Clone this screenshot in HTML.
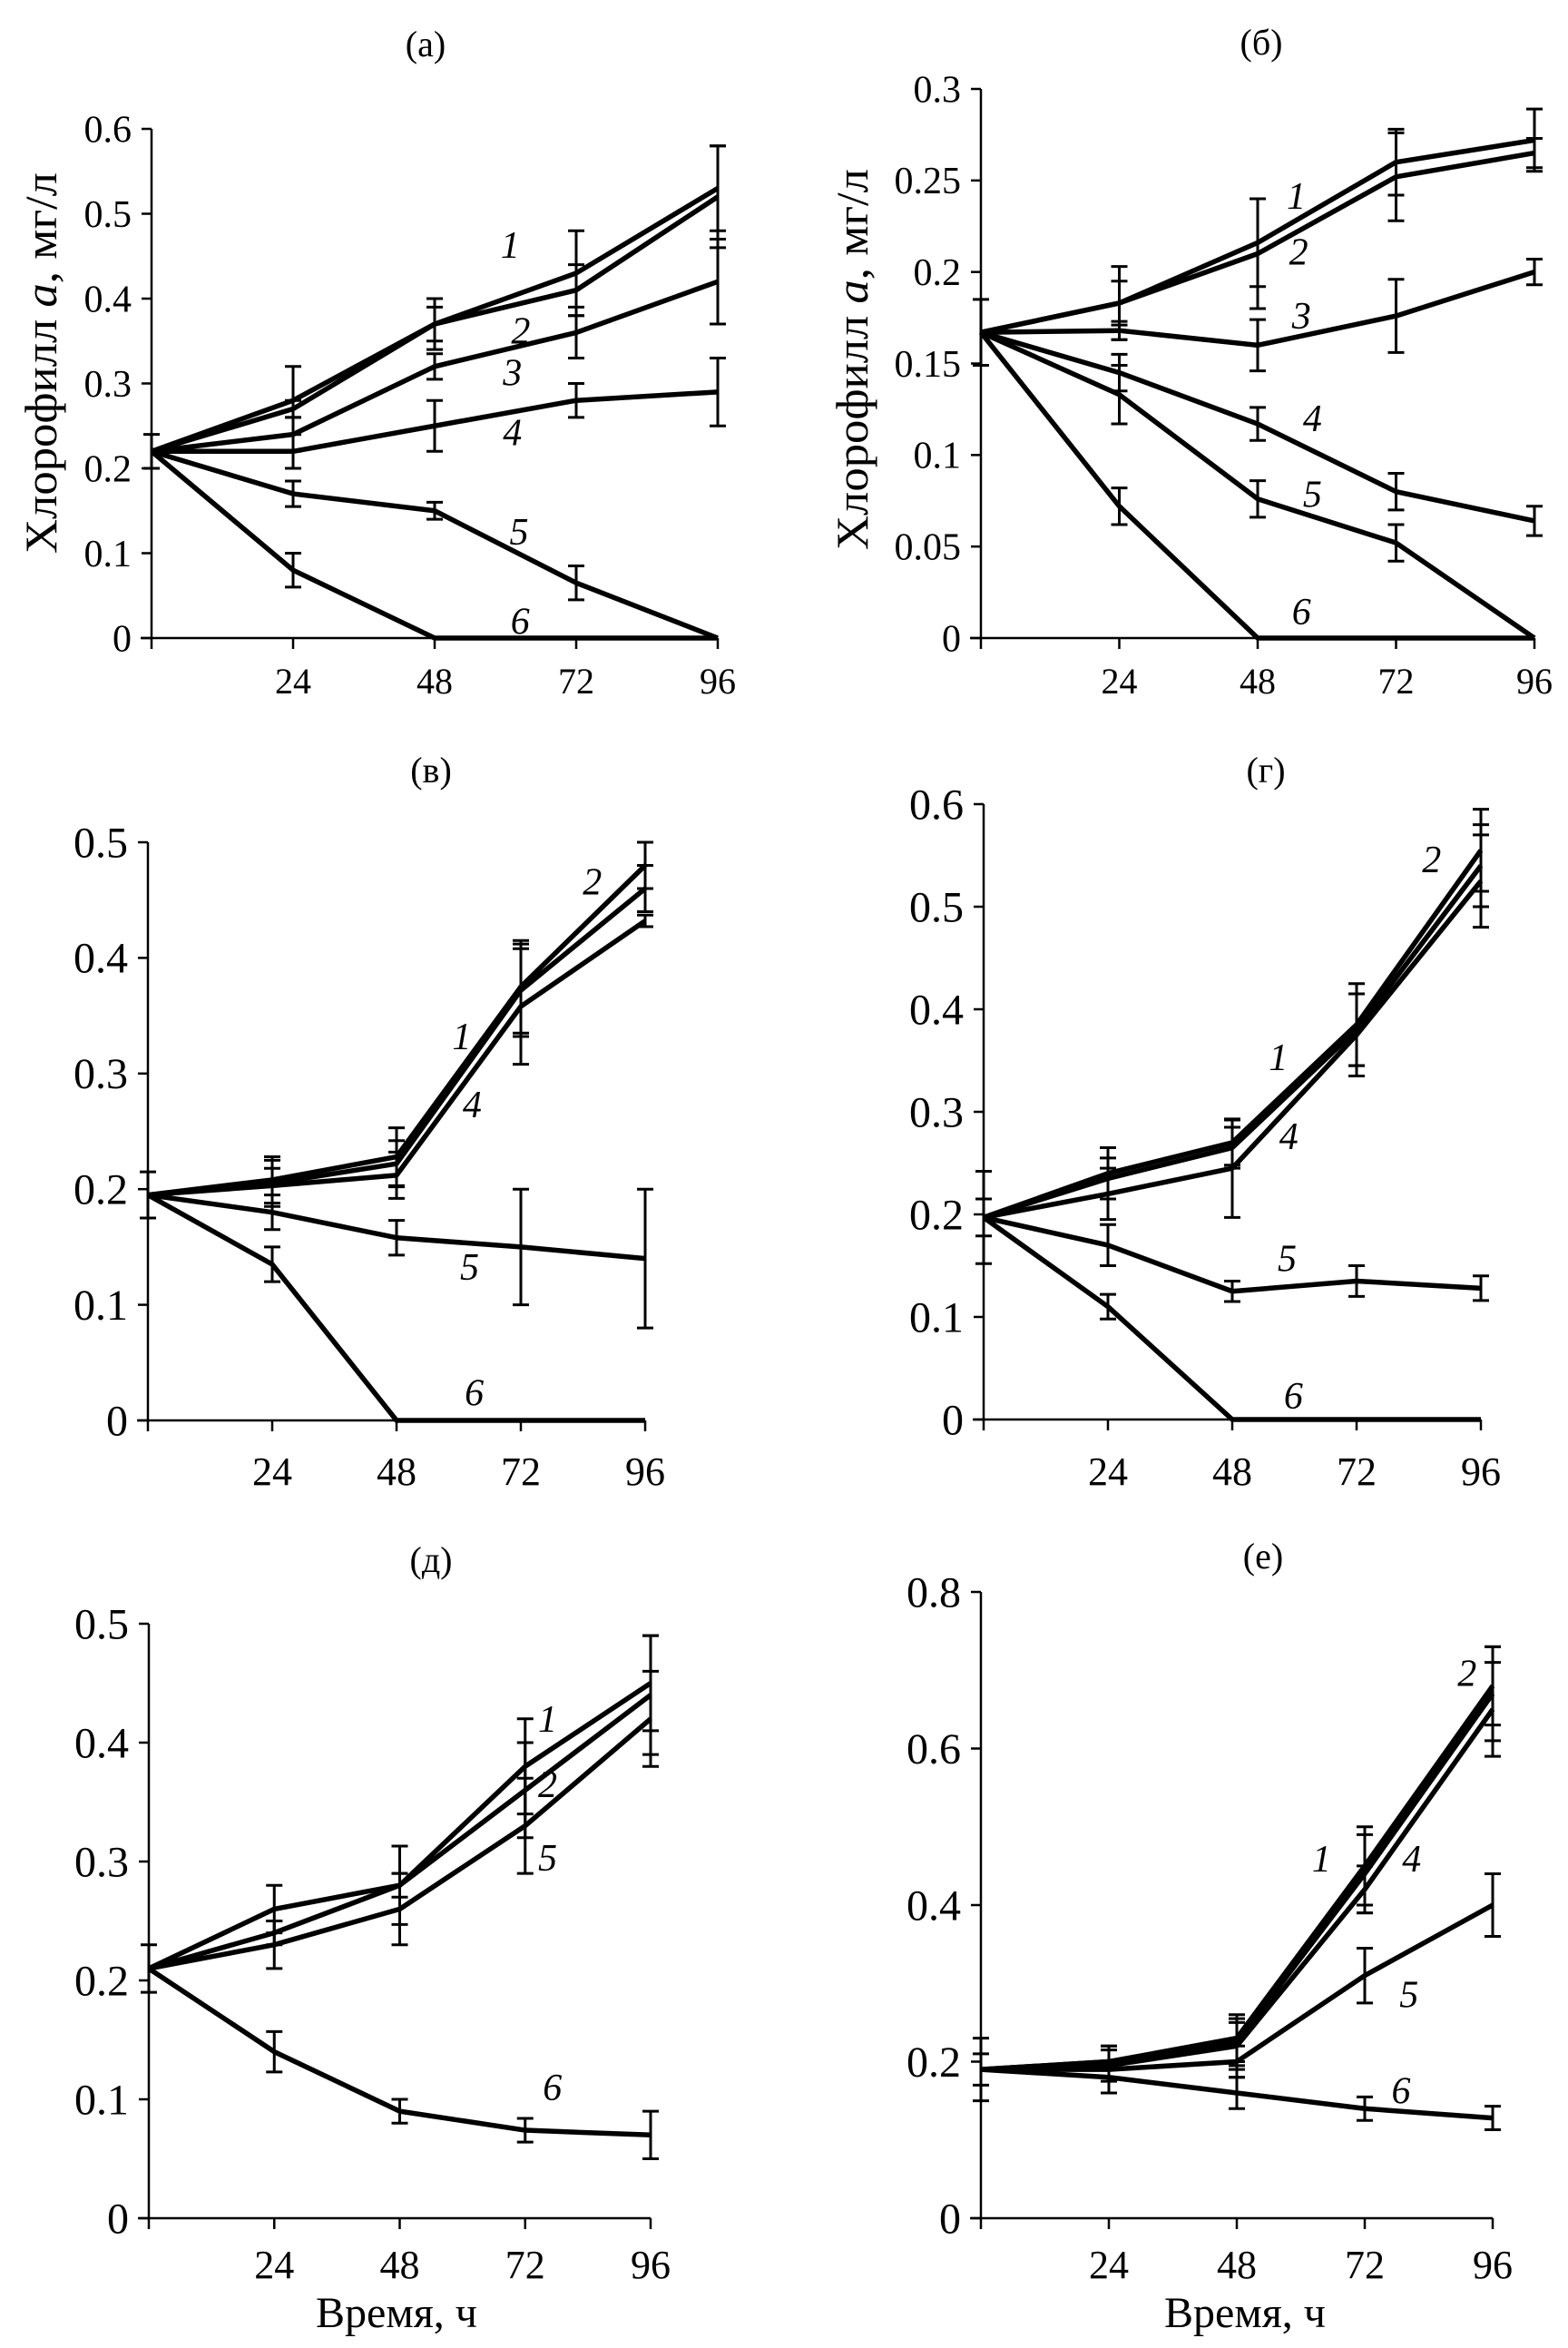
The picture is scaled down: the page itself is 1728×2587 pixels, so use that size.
<!DOCTYPE html>
<html><head><meta charset="utf-8">
<style>
html,body{margin:0;padding:0;background:#fff}
svg{display:block}
text{font-family:"Liberation Serif","DejaVu Serif",serif;fill:#000}
</style></head>
<body>
<svg id="fig" width="1728" height="2587" viewBox="0 0 1728 2587" xmlns="http://www.w3.org/2000/svg"></svg>
<script>
const hours = [0, 24, 48, 72, 96];
const xTickLabels = ["24", "48", "72", "96"];

// Panel (а)
const aS1 = [0.22, 0.28, 0.37, 0.43, 0.53];  const aE1 = [0.02, 0.04, 0.03, 0.05, 0.05];
const aS2 = [0.22, 0.27, 0.37, 0.41, 0.52];  const aE2 = [0, 0.01, 0.02, 0.03, 0.06];
const aS3 = [0.22, 0.24, 0.32, 0.36, 0.42];  const aE3 = [0, 0.02, 0.015, 0.03, 0.05];
const aS4 = [0.22, 0.22, 0.25, 0.28, 0.29];  const aE4 = [0, 0.02, 0.03, 0.02, 0.04];
const aS5 = [0.22, 0.17, 0.15, 0.065, 0];    const aE5 = [0, 0.015, 0.01, 0.02, 0];
const aS6 = [0.22, 0.08, 0, 0, 0];           const aE6 = [0, 0.02, 0, 0, 0];
const aYTicks = ["0", "0.1", "0.2", "0.3", "0.4", "0.5", "0.6"];
// Panel (б)
const bS1 = [0.167, 0.183, 0.216, 0.26, 0.272]; const bE1 = [0.018, 0.02, 0.024, 0.018, 0.017];
const bS2 = [0.167, 0.183, 0.21, 0.252, 0.265]; const bE2 = [0, 0.012, 0.03, 0.024, 0.008];
const bS3 = [0.167, 0.168, 0.16, 0.176, 0.2];   const bE3 = [0, 0.005, 0.014, 0.02, 0.007];
const bS4 = [0.167, 0.145, 0.117, 0.08, 0.064]; const bE4 = [0, 0.01, 0.009, 0.01, 0.008];
const bS5 = [0.167, 0.133, 0.076, 0.052, 0];    const bE5 = [0, 0.016, 0.01, 0.01, 0];
const bS6 = [0.167, 0.072, 0, 0, 0];            const bE6 = [0, 0.01, 0, 0, 0];
const bYTicks = ["0", "0.05", "0.1", "0.15", "0.2", "0.25", "0.3"];
// Panel (в)
const vS1 = [0.195, 0.208, 0.228, 0.375, 0.48]; const vE1 = [0.02, 0.02, 0.025, 0.04, 0.02];
const vS2 = [0.195, 0.205, 0.222, 0.372, 0.46]; const vE2 = [0, 0.02, 0.02, 0.04, 0.02];
const vS4 = [0.195, 0.203, 0.212, 0.358, 0.432]; const vE4 = [0, 0.015, 0.02, 0.05, 0.005];
const vS5 = [0.195, 0.18, 0.158, 0.15, 0.14];   const vE5 = [0, 0.015, 0.015, 0.05, 0.06];
const vS6 = [0.195, 0.135, 0, 0, 0];            const vE6 = [0, 0.015, 0, 0, 0];
const vYTicks = ["0", "0.1", "0.2", "0.3", "0.4", "0.5"];
// Panel (г)
const gS1 = [0.197, 0.24, 0.27, 0.385, 0.555];  const gE1 = [0.018, 0.025, 0.022, 0.04, 0.04];
const gS2 = [0.197, 0.235, 0.265, 0.38, 0.54];  const gE2 = [0, 0.02, 0.02, 0.035, 0.04];
const gS4 = [0.197, 0.22, 0.245, 0.375, 0.525]; const gE4 = [0.045, 0.025, 0.048, 0.04, 0.045];
const gS5 = [0.197, 0.17, 0.125, 0.135, 0.128]; const gE5 = [0, 0.02, 0.01, 0.015, 0.012];
const gS6 = [0.197, 0.11, 0, 0, 0];             const gE6 = [0, 0.012, 0, 0, 0];
const gYTicks = ["0", "0.1", "0.2", "0.3", "0.4", "0.5", "0.6"];
// Panel (д)
const dS1 = [0.21, 0.26, 0.28, 0.38, 0.45]; const dE1 = [0.02, 0.02, 0.033, 0.04, 0.04];
const dS2 = [0.21, 0.24, 0.28, 0.36, 0.44]; const dE2 = [0, 0.01, 0.01, 0.04, 0.05];
const dS5 = [0.21, 0.23, 0.26, 0.33, 0.42]; const dE5 = [0, 0.02, 0.03, 0.04, 0.04];
const dS6 = [0.21, 0.14, 0.09, 0.074, 0.07]; const dE6 = [0, 0.017, 0.01, 0.01, 0.02];
const dYTicks = ["0", "0.1", "0.2", "0.3", "0.4", "0.5"];
// Panel (е)
const eS1 = [0.19, 0.2, 0.23, 0.45, 0.68];  const eE1 = [0.02, 0.02, 0.03, 0.05, 0.05];
const eS2 = [0.19, 0.2, 0.225, 0.44, 0.67]; const eE2 = [0, 0.02, 0.03, 0.05, 0.06];
const eS4 = [0.19, 0.195, 0.22, 0.42, 0.65]; const eE4 = [0.04, 0.02, 0.03, 0.03, 0.06];
const eS5 = [0.19, 0.19, 0.2, 0.31, 0.4];   const eE5 = [0, 0.01, 0.02, 0.035, 0.04];
const eS6 = [0.19, 0.18, 0.16, 0.14, 0.128]; const eE6 = [0, 0.02, 0.02, 0.015, 0.015];
const eYTicks = ["0", "0.2", "0.4", "0.6", "0.8"];

const NS = "http://www.w3.org/2000/svg";
const fig = document.getElementById("fig");
function mk(tag, attrs, parent) {
  const el = document.createElementNS(NS, tag);
  for (const k in attrs) el.setAttribute(k, attrs[k]);
  (parent || fig).appendChild(el);
  return el;
}

function panel(p) {
  const g = mk("g", {});
  
  
  const xs = h => p.x0 + (h / 96) * (p.x1 - p.x0);
  const ys = v => p.y0 - (v / p.ymax) * (p.y0 - p.ytop);
  const t = mk("text", {x: p.tx, y: p.ty, "font-size": 40, "text-anchor": "middle"}, g);
  t.textContent = p.title;
  
  
  const ax = mk("line", {x1: p.x0, y1: p.ytop, x2: p.x0, y2: p.y0 + 12, stroke: "#000", "stroke-width": 2.5}, g);
  
  
  const axx = mk("line", {x1: p.x0 - 12, y1: p.y0, x2: p.x1, y2: p.y0, stroke: "#000", "stroke-width": 2.5}, g);
  
  
  p.yt.forEach((lab, i) => {
    const v = p.ymax * i / (p.yt.length - 1);
    const y = ys(v);
    const tk = mk("line", {x1: p.x0 - 11, y1: y, x2: p.x0, y2: y, stroke: "#000", "stroke-width": 2.5}, g);
    
    
    const tl = mk("text", {x: p.x0 - 22, y: y + p.yf * 0.34, "font-size": p.yf, "text-anchor": "end"}, g);
    tl.textContent = lab;
    
    
  });
  hours.slice(1).forEach((h, i) => {
    const x = xs(h);
    const tk = mk("line", {x1: x, y1: p.y0, x2: x, y2: p.y0 + 12, stroke: "#000", "stroke-width": 2.5}, g);
    
    
    const tl = mk("text", {x: x, y: p.xly, "font-size": p.xf, "text-anchor": "middle"}, g);
    tl.textContent = xTickLabels[i];
    
    
  });
  p.series.forEach(s => {
    const sg = mk("g", {}, g);
    
    
    s.e.forEach((err, i) => {
      if (!err) return;
      const x = xs(hours[i]), yT = ys(s.v[i] + err), yB = ys(Math.max(0, s.v[i] - err));
      const eb = mk("path", {d: `M${x},${yT}V${yB}M${x-9},${yT}H${x+9}M${x-9},${yB}H${x+9}`, stroke: "#000", "stroke-width": 3, fill: "none"}, sg);
      
      
    });
    const pts = s.v.map((v, i) => xs(hours[i]) + "," + ys(v)).join(" ");
    const ln = mk("polyline", {points: pts, fill: "none", stroke: "#000", "stroke-width": 5.5, "stroke-linejoin": "round"}, sg);
    
    
  });
  p.labels.forEach(l => {
    const tl = mk("text", {x: xs(l[1]), y: ys(l[2]) + 14, "font-size": 42, "font-style": "italic", "text-anchor": "middle"}, g);
    tl.textContent = l[0];
    
    
  });
}

panel({id: "a", title: "(а)", tx: 469, ty: 62, x0: 167, x1: 791, y0: 703, ytop: 142, ymax: 0.6, yt: aYTicks, yf: 42, xf: 40, xly: 764,
  series: [{n: 1, v: aS1, e: aE1}, {n: 2, v: aS2, e: aE2}, {n: 3, v: aS3, e: aE3}, {n: 4, v: aS4, e: aE4}, {n: 5, v: aS5, e: aE5}, {n: 6, v: aS6, e: aE6}],
  labels: [["1", 60.8, 0.463], ["2", 62.6, 0.362], ["3", 61.2, 0.313], ["4", 61.2, 0.242], ["5", 62.3, 0.125], ["6", 62.5, 0.02]]});
panel({id: "b", title: "(б)", tx: 1390, ty: 60, x0: 1081, x1: 1691, y0: 703, ytop: 98, ymax: 0.3, yt: bYTicks, yf: 42, xf: 40, xly: 764,
  series: [{n: 1, v: bS1, e: bE1}, {n: 2, v: bS2, e: bE2}, {n: 3, v: bS3, e: bE3}, {n: 4, v: bS4, e: bE4}, {n: 5, v: bS5, e: bE5}, {n: 6, v: bS6, e: bE6}],
  labels: [["1", 54.7, 0.2415], ["2", 55.1, 0.211], ["3", 55.6, 0.176], ["4", 57.5, 0.12], ["5", 57.5, 0.0785], ["6", 55.6, 0.0145]]});
panel({id: "v", title: "(в)", tx: 475, ty: 862, x0: 163, x1: 711, y0: 1565, ytop: 928, ymax: 0.5, yt: vYTicks, yf: 48, xf: 44, xly: 1636,
  series: [{n: 1, v: vS1, e: vE1}, {n: 2, v: vS2, e: vE2}, {n: 4, v: vS4, e: vE4}, {n: 5, v: vS5, e: vE5}, {n: 6, v: vS6, e: vE6}],
  labels: [["2", 85.8, 0.466], ["1", 60.6, 0.332], ["4", 62.6, 0.273], ["5", 62.1, 0.1325], ["6", 63, 0.024]]});
panel({id: "g", title: "(г)", tx: 1395, ty: 862, x0: 1084, x1: 1632, y0: 1564, ytop: 886, ymax: 0.6, yt: gYTicks, yf: 48, xf: 44, xly: 1636,
  series: [{n: 1, v: gS1, e: gE1}, {n: 2, v: gS2, e: gE2}, {n: 4, v: gS4, e: gE4}, {n: 5, v: gS5, e: gE5}, {n: 6, v: gS6, e: gE6}],
  labels: [["2", 86.5, 0.546], ["1", 56.9, 0.353], ["4", 58.9, 0.276], ["5", 58.6, 0.157], ["6", 59.8, 0.023]]});
panel({id: "d", title: "(д)", tx: 475, ty: 1732, x0: 164, x1: 717, y0: 2444, ytop: 1789, ymax: 0.5, yt: dYTicks, yf: 48, xf: 44, xly: 2510,
  series: [{n: 1, v: dS1, e: dE1}, {n: 2, v: dS2, e: dE2}, {n: 5, v: dS5, e: dE5}, {n: 6, v: dS6, e: dE6}],
  labels: [["1", 76.3, 0.42], ["2", 76.3, 0.365], ["5", 76.3, 0.303], ["6", 77.2, 0.11]]});
panel({id: "e", title: "(е)", tx: 1392, ty: 1728, x0: 1081, x1: 1645, y0: 2444, ytop: 1754, ymax: 0.8, yt: eYTicks, yf: 48, xf: 44, xly: 2510,
  series: [{n: 1, v: eS1, e: eE1}, {n: 2, v: eS2, e: eE2}, {n: 4, v: eS4, e: eE4}, {n: 5, v: eS5, e: eE5}, {n: 6, v: eS6, e: eE6}],
  labels: [["2", 91.2, 0.696], ["1", 63.9, 0.459], ["4", 80.8, 0.459], ["5", 80.3, 0.286], ["6", 78.8, 0.163]]});

function ytitle(x, y, name) {
  const t = mk("text", {transform: `translate(${x},${y}) rotate(-90)`, "font-size": 50, "text-anchor": "middle", textLength: 420, lengthAdjust: "spacingAndGlyphs"});
  t.innerHTML = 'Хлорофилл <tspan font-style="italic">a</tspan>, мг/л';
  
  
}
ytitle(62, 400, 'y-axis-title-a');
ytitle(956, 396, 'y-axis-title-b');
function xtitle(x, name) {
  const t = mk("text", {x: x, y: 2564, "font-size": 48, "text-anchor": "middle"});
  t.textContent = "Время, ч";
  
  
}
xtitle(437, 'x-axis-title-d');
xtitle(1372, 'x-axis-title-e');
</script>
</body></html>
